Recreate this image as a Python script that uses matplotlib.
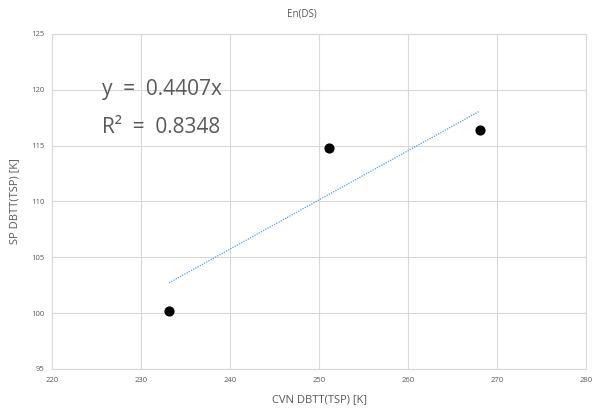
import numpy as np
import matplotlib
matplotlib.use('Agg')
import matplotlib.pyplot as plt

# data
cvn_dbtt = [233.1, 251.1, 268.0]
sp_dbtt = [100.2, 114.8, 116.4]
eq_lines = ['y  =  0.4407x', 'R²  =  0.8348']

plt.rcParams['font.family'] = ['Open Sans', 'DejaVu Sans']
gray = '#595959'
grid_c = '#d9d9d9'

fig = plt.figure(figsize=(5.97, 4.08), dpi=100)
ax = fig.add_axes([0.0879, 0.0956, 0.8945, 0.8211])

# trendline through origin (least squares, zero intercept)
x = np.array(cvn_dbtt)
y = np.array(sp_dbtt)
slope = np.sum(x * y) / np.sum(x * x)
xs = np.linspace(x.min(), x.max(), 2)
ax.plot(xs, slope * xs, color='#5b9bd5', linestyle=(0, (1, 1)), linewidth=0.9, zorder=2)

ax.scatter(x, y, s=40, color='black', zorder=3)

ax.set_xlim(220, 280)
ax.set_ylim(95, 125)
ax.set_xticks(np.arange(220, 281, 10))
ax.set_yticks(np.arange(95, 126, 5))
ax.grid(True, color=grid_c, linewidth=0.8)
ax.set_axisbelow(True)
for s in ax.spines.values():
    s.set_color(grid_c)
    s.set_linewidth(0.8)
ax.tick_params(length=0, labelsize=5.5, labelcolor=gray, pad=6)

ax.set_xlabel('CVN DBTT(TSP) [K]', fontsize=8, color=gray, labelpad=7)
ax.set_ylabel('SP DBTT(TSP) [K]', fontsize=8, color=gray, labelpad=8)
fig.text(0.505, 0.965, 'En(DS)', ha='center', va='center', fontsize=7, color=gray)

# equation box
ax.text(225.6, 120.0, eq_lines[0], fontsize=15, color=gray, va='center', ha='left')
ax.text(225.6, 116.6, eq_lines[1], fontsize=15, color=gray, va='center', ha='left')

fig.savefig('out.png', dpi=100)
